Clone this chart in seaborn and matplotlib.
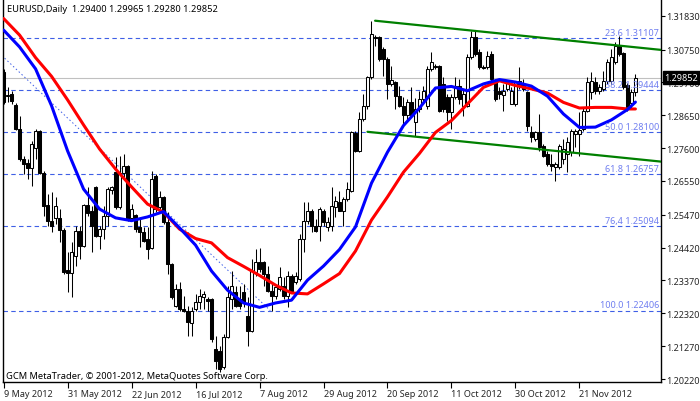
import matplotlib
matplotlib.use("Agg")
import matplotlib.pyplot as plt
import numpy as np
import pandas as pd
import seaborn as sns

# EURUSD daily candles, 9 May 2012 .. end of Nov 2012
opens = [
    1.3003, 1.2926, 1.2933, 1.2898, 1.2821, 1.2725, 1.2712, 1.2696, 1.2760, 1.2815,
    1.2680, 1.2578, 1.2527, 1.2537, 1.2537, 1.2498, 1.2370, 1.2361, 1.2415, 1.2495,
    1.2447, 1.2578, 1.2559, 1.2636, 1.2479, 1.2501, 1.2543, 1.2626, 1.2684, 1.2572,
    1.2680, 1.2703, 1.2537, 1.2546, 1.2508, 1.2492, 1.2469, 1.2441, 1.2671, 1.2572,
    1.2604, 1.2524, 1.2390, 1.2255, 1.2310, 1.2246, 1.2239, 1.2201, 1.2246, 1.2268,
    1.2284, 1.2278, 1.2278, 1.2118, 1.2112, 1.2060, 1.2156, 1.2278, 1.2300, 1.2278,
    1.2300, 1.2223, 1.2175, 1.2364, 1.2396, 1.2396, 1.2358, 1.2303, 1.2287, 1.2310,
    1.2319, 1.2287, 1.2351, 1.2332, 1.2342, 1.2469, 1.2527, 1.2559, 1.2511, 1.2511,
    1.2559, 1.2508, 1.2511, 1.2572, 1.2588, 1.2559, 1.2597, 1.2623, 1.2808, 1.2751,
    1.2853, 1.2895, 1.2987, 1.3115, 1.3115, 1.3077, 1.3045, 1.2965, 1.2971, 1.2926,
    1.2895, 1.2866, 1.2907, 1.2843, 1.2885, 1.2917, 1.2895, 1.3013, 1.3022, 1.3022,
    1.2965, 1.2923, 1.2875, 1.2923, 1.2958, 1.2895, 1.2895, 1.3051, 1.3115, 1.3067,
    1.3019, 1.3019, 1.3061, 1.2974, 1.2942, 1.2930, 1.2949, 1.2901, 1.2901, 1.2974,
    1.2965, 1.2939, 1.2811, 1.2789, 1.2811, 1.2767, 1.2741, 1.2709, 1.2700, 1.2700,
    1.2725, 1.2741, 1.2747, 1.2805, 1.2805, 1.2821, 1.2879, 1.2939, 1.2971, 1.2942,
    1.2949, 1.2974, 1.2974, 1.3035, 1.3086, 1.3064, 1.2962, 1.2904, 1.29400,
]
highs = [
    1.3013, 1.2955, 1.2942, 1.2904, 1.2862, 1.2735, 1.2725, 1.2783, 1.2821, 1.2818,
    1.2687, 1.2613, 1.2620, 1.2604, 1.2565, 1.2505, 1.2428, 1.2460, 1.2511, 1.2511,
    1.2581, 1.2636, 1.2575, 1.2639, 1.2511, 1.2575, 1.2636, 1.2639, 1.2731, 1.2735,
    1.2741, 1.2706, 1.2581, 1.2549, 1.2533, 1.2508, 1.2508, 1.2687, 1.2677, 1.2623,
    1.2608, 1.2556, 1.2393, 1.2326, 1.2332, 1.2287, 1.2255, 1.2252, 1.2294, 1.2310,
    1.2303, 1.2284, 1.2281, 1.2159, 1.2128, 1.2166, 1.2319, 1.2367, 1.2319, 1.2319,
    1.2326, 1.2284, 1.2406, 1.2438, 1.2441, 1.2399, 1.2383, 1.2332, 1.2319, 1.2380,
    1.2348, 1.2367, 1.2358, 1.2364, 1.2485, 1.2588, 1.2588, 1.2565, 1.2533, 1.2572,
    1.2565, 1.2540, 1.2636, 1.2608, 1.2623, 1.2604, 1.2652, 1.2815, 1.2815, 1.2875,
    1.2933, 1.2990, 1.3166, 1.3121, 1.3118, 1.3083, 1.3051, 1.3022, 1.2974, 1.2958,
    1.2923, 1.2917, 1.2955, 1.2920, 1.2942, 1.2958, 1.3022, 1.3067, 1.3029, 1.3025,
    1.2987, 1.2933, 1.2933, 1.2987, 1.2981, 1.2949, 1.3061, 1.3134, 1.3134, 1.3077,
    1.3025, 1.3070, 1.3070, 1.2981, 1.2955, 1.2965, 1.2974, 1.2955, 1.2974, 1.3019,
    1.2981, 1.2942, 1.2831, 1.2815, 1.2869, 1.2773, 1.2751, 1.2741, 1.2716, 1.2773,
    1.2789, 1.2795, 1.2821, 1.2821, 1.2875, 1.2891, 1.2987, 1.3003, 1.2987, 1.2965,
    1.3006, 1.3045, 1.3077, 1.3099, 1.3118, 1.3067, 1.2968, 1.2949, 1.29965,
]
lows = [
    1.2901, 1.2907, 1.2901, 1.2818, 1.2719, 1.2677, 1.2661, 1.2639, 1.2725, 1.2677,
    1.2543, 1.2511, 1.2492, 1.2517, 1.2460, 1.2358, 1.2300, 1.2284, 1.2383, 1.2406,
    1.2444, 1.2543, 1.2428, 1.2476, 1.2438, 1.2469, 1.2511, 1.2613, 1.2565, 1.2565,
    1.2661, 1.2527, 1.2533, 1.2492, 1.2444, 1.2460, 1.2406, 1.2438, 1.2556, 1.2565,
    1.2517, 1.2358, 1.2278, 1.2252, 1.2239, 1.2236, 1.2159, 1.2159, 1.2239, 1.2246,
    1.2246, 1.2239, 1.2140, 1.2054, 1.2044, 1.2054, 1.2153, 1.2246, 1.2252, 1.2246,
    1.2252, 1.2128, 1.2172, 1.2351, 1.2364, 1.2319, 1.2300, 1.2239, 1.2278, 1.2303,
    1.2278, 1.2252, 1.2300, 1.2326, 1.2335, 1.2428, 1.2517, 1.2492, 1.2492, 1.2463,
    1.2511, 1.2495, 1.2495, 1.2540, 1.2559, 1.2511, 1.2591, 1.2620, 1.2747, 1.2747,
    1.2847, 1.2885, 1.2981, 1.3086, 1.3038, 1.2990, 1.2917, 1.2958, 1.2885, 1.2891,
    1.2837, 1.2843, 1.2862, 1.2799, 1.2875, 1.2907, 1.2885, 1.3006, 1.3013, 1.2875,
    1.2875, 1.2847, 1.2821, 1.2917, 1.2901, 1.2862, 1.2891, 1.3045, 1.3054, 1.3013,
    1.3013, 1.3013, 1.2974, 1.2910, 1.2917, 1.2879, 1.2942, 1.2901, 1.2895, 1.2949,
    1.2942, 1.2815, 1.2779, 1.2783, 1.2751, 1.2731, 1.2703, 1.2687, 1.2655, 1.2693,
    1.2709, 1.2684, 1.2735, 1.2763, 1.2735, 1.2815, 1.2875, 1.2917, 1.2933, 1.2933,
    1.2942, 1.2965, 1.2965, 1.3029, 1.3054, 1.2949, 1.2879, 1.2885, 1.29280,
]
closes = [
    1.2907, 1.2930, 1.2910, 1.2821, 1.2725, 1.2709, 1.2696, 1.2773, 1.2815, 1.2680,
    1.2575, 1.2527, 1.2511, 1.2575, 1.2498, 1.2364, 1.2361, 1.2428, 1.2495, 1.2447,
    1.2578, 1.2553, 1.2511, 1.2479, 1.2501, 1.2543, 1.2629, 1.2636, 1.2572, 1.2680,
    1.2703, 1.2533, 1.2565, 1.2501, 1.2492, 1.2463, 1.2438, 1.2661, 1.2565, 1.2604,
    1.2524, 1.2390, 1.2284, 1.2310, 1.2246, 1.2239, 1.2204, 1.2239, 1.2268, 1.2287,
    1.2294, 1.2271, 1.2150, 1.2080, 1.2054, 1.2156, 1.2284, 1.2319, 1.2255, 1.2255,
    1.2268, 1.2175, 1.2367, 1.2396, 1.2374, 1.2358, 1.2303, 1.2287, 1.2316, 1.2348,
    1.2287, 1.2351, 1.2303, 1.2351, 1.2469, 1.2527, 1.2559, 1.2511, 1.2495, 1.2565,
    1.2524, 1.2524, 1.2575, 1.2591, 1.2559, 1.2597, 1.2629, 1.2811, 1.2751, 1.2853,
    1.2895, 1.2987, 1.3125, 1.3113, 1.3045, 1.3045, 1.2965, 1.2978, 1.2926, 1.2895,
    1.2866, 1.2907, 1.2866, 1.2885, 1.2917, 1.2942, 1.3013, 1.3035, 1.3020, 1.2879,
    1.2885, 1.2875, 1.2923, 1.2958, 1.2917, 1.2933, 1.3051, 1.3115, 1.3061, 1.3019,
    1.3017, 1.3054, 1.2981, 1.2917, 1.2933, 1.2942, 1.2968, 1.2942, 1.2971, 1.2958,
    1.2949, 1.2831, 1.2795, 1.2811, 1.2763, 1.2735, 1.2709, 1.2703, 1.2709, 1.2767,
    1.2757, 1.2779, 1.2815, 1.2815, 1.2818, 1.2879, 1.2971, 1.2974, 1.2942, 1.2955,
    1.2974, 1.3035, 1.3051, 1.3086, 1.3061, 1.2955, 1.2885, 1.2940, 1.29852,
]

# moving averages, read every 4th bar plus the last bar
ma_fast = [
    1.3137, 1.3083, 1.3013, 1.2895, 1.2751, 1.2629, 1.2565, 1.2537, 1.2528, 1.2540,
    1.2557, 1.2505, 1.2450, 1.2367, 1.2306, 1.2265, 1.2251, 1.2265, 1.2274, 1.2338,
    1.2383, 1.2436, 1.2508, 1.2648, 1.2747, 1.2832, 1.2888, 1.2952, 1.2957, 1.2943,
    1.2965, 1.2979, 1.2971, 1.2958, 1.2926, 1.2869, 1.2826, 1.2827, 1.2850, 1.2883,
    1.2907,
]
ma_slow = [
    1.3174, 1.3121, 1.3049, 1.2989, 1.2914, 1.2834, 1.2757, 1.2693, 1.2636, 1.2581,
    1.2555, 1.2501, 1.2471, 1.2457, 1.2410, 1.2382, 1.2353, 1.2322, 1.2297, 1.2294,
    1.2326, 1.2359, 1.2431, 1.2530, 1.2604, 1.2683, 1.2743, 1.2810, 1.2848, 1.2901,
    1.2954, 1.2975, 1.2960, 1.2949, 1.2936, 1.2906, 1.2888, 1.2890, 1.2890, 1.2885,
    1.2885,
]
ma_every = 4

date_labels = ["9 May 2012", "31 May 2012", "22 Jun 2012", "16 Jul 2012", "7 Aug 2012",
               "29 Aug 2012", "20 Sep 2012", "11 Oct 2012", "30 Oct 2012", "21 Nov 2012"]
date_every = 16

price_ticks = [1.31830, 1.30750, 1.29700, 1.28650, 1.27600, 1.26550,
               1.25470, 1.24420, 1.23370, 1.22320, 1.21270, 1.20220]

fib_names = ["23.6", "38.2", "50.0", "61.8", "76,4", "100.0"]
fib_prices = [1.31107, 1.29444, 1.28100, 1.26757, 1.25094, 1.22406]
fib_trend_bars = [-27.1, 66.7]
fib_trend_prices = [1.33794, 1.22406]

channel_upper_bars = [92.9, 165.0]
channel_upper_prices = [1.3167, 1.3073]
channel_lower_bars = [91.0, 165.0]
channel_lower_prices = [1.2812, 1.2716]

symbol = "EURUSD,Daily"
last_price = 1.29852
copyright_text = "GCM MetaTrader, \u00a9 2001-2012, MetaQuotes Software Corp."

if __name__ == "__main__":
    sns.set_style("white")
    plt.rcParams["font.family"] = ["Noto Sans", "DejaVu Sans"]

    df = pd.DataFrame({"Open": opens, "High": highs, "Low": lows, "Close": closes})
    df["Bar"] = np.arange(len(df))
    up = df["Close"] >= df["Open"]

    ma_bars = list(range(0, len(df), ma_every)) + [len(df) - 1]
    ma_df = pd.DataFrame({"Bar": ma_bars, "Fast": ma_fast, "Slow": ma_slow})

    fib_line = "#3f5fe6"
    fib_text = "#707ff0"
    fs = 6.5

    fig = plt.figure(figsize=(7, 4.02), dpi=100)
    ax = fig.add_axes([3 / 700, 18.7 / 402, 658 / 700, 383.3 / 402])

    # fibo levels, trend line and current price line
    for p in fib_prices:
        ax.axhline(p, color=fib_line, lw=0.8, ls=(0, (4, 3)), zorder=1)
    ax.plot(fib_trend_bars, fib_trend_prices, color=fib_line, lw=0.7,
            ls=(0, (1.5, 2.5)), zorder=1)
    ax.axhline(last_price, color="#c0c0c0", lw=0.8, zorder=0.8)

    # candles
    ax.vlines(df["Bar"], df["Low"], df["High"], color="black", lw=0.75, zorder=2)
    body_bottom = df[["Open", "Close"]].min(axis=1)
    body_height = (df["Close"] - df["Open"]).abs()
    ax.bar(df["Bar"], body_height, bottom=body_bottom, width=0.55,
           color=np.where(up, "white", "black"), edgecolor="black",
           linewidth=0.75, zorder=3)

    # channel
    ax.plot(channel_upper_bars, channel_upper_prices, color="#008000", lw=1.6, zorder=4)
    ax.plot(channel_lower_bars, channel_lower_prices, color="#008000", lw=1.6, zorder=4)

    # moving averages
    sns.lineplot(data=ma_df, x="Bar", y="Slow", color="#ff0000", linewidth=2.2, ax=ax, zorder=5)
    sns.lineplot(data=ma_df, x="Bar", y="Fast", color="#0000ff", linewidth=2.2, ax=ax, zorder=6)

    for name, p in zip(fib_names, fib_prices):
        ax.annotate("{} {:.5f}".format(name, p), xy=(0.997, p),
                    xycoords=("axes fraction", "data"), xytext=(0, 1.2),
                    textcoords="offset points", ha="right", va="bottom",
                    color=fib_text, fontsize=fs, zorder=7)

    ax.set_xlim(-0.15, 164.4)
    ax.set_ylim(1.20115, 1.32364)

    ax.yaxis.tick_right()
    ax.set_yticks(price_ticks)
    ax.set_yticklabels(["{:.5f}".format(t) for t in price_ticks])
    ax.set_xticks([i * date_every for i in range(len(date_labels))])
    ax.set_xticklabels(date_labels, ha="left")
    ax.tick_params(axis="y", length=3, width=0.8, pad=1, labelsize=fs,
                   right=True, left=False, color="black")
    ax.tick_params(axis="x", length=4, width=0.8, pad=1, labelsize=fs,
                   bottom=True, color="black")
    ax.set_xlabel("")
    ax.set_ylabel("")

    for side in ["left", "bottom", "right"]:
        ax.spines[side].set_visible(True)
        ax.spines[side].set_color("black")
        ax.spines[side].set_linewidth(1.0)
    ax.spines["top"].set_visible(False)

    ax.text(0.006, 0.987, "{}  {:.5f} {:.5f} {:.5f} {:.5f}".format(
                symbol, opens[-1], highs[-1], lows[-1], closes[-1]),
            transform=ax.transAxes, ha="left", va="top", fontsize=fs + 0.2, color="black")
    ax.text(0.004, 0.006, copyright_text, transform=ax.transAxes,
            ha="left", va="bottom", fontsize=fs + 0.2, color="black")

    ax.annotate("{:.5f}".format(last_price), xy=(1.0, last_price),
                xycoords=("axes fraction", "data"), xytext=(2.5, 0),
                textcoords="offset points", ha="left", va="center",
                color="white", fontsize=fs, annotation_clip=False,
                bbox=dict(boxstyle="square,pad=0.2", fc="black", ec="black"))

    fig.savefig("out.png", dpi=100)
